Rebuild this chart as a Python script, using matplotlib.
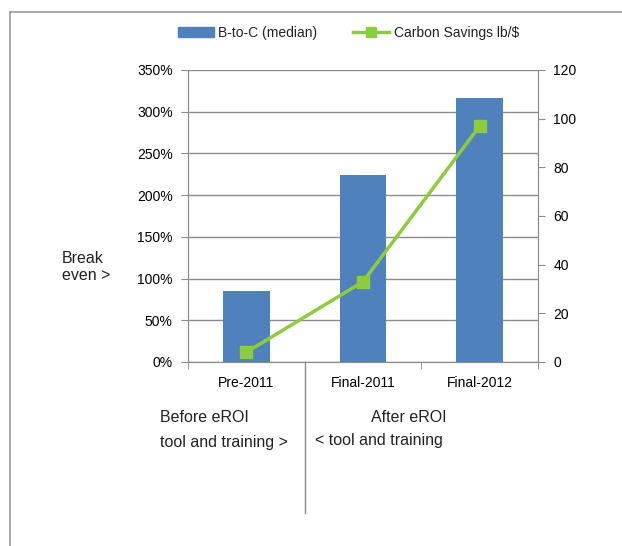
import matplotlib
matplotlib.use("Agg")
import matplotlib.pyplot as plt
from matplotlib.lines import Line2D
from matplotlib.ticker import FuncFormatter, MultipleLocator

plt.rcParams['font.family'] = ['Liberation Sans Narrow', 'Liberation Sans', 'DejaVu Sans']
plt.rcParams['font.size'] = 10
plt.rcParams['text.color'] = '#222222'

# Program stages and results
stages = ['Pre-2011', 'Final-2011', 'Final-2012']
b_to_c = [85, 224, 316]          # benefit-to-cost ratio, median (%)
carbon_savings = [4, 33, 97]     # lb per dollar

bar_color = '#4F81BD'
line_color = '#8DCB3F'
grid_color = '#8C8C8C'

fig = plt.figure(figsize=(6.22, 5.46), dpi=100)
ax = fig.add_axes([0.3023, 0.337, 0.5627, 0.5348])
ax2 = ax.twinx()

x = list(range(len(stages)))
ax.bar(x, b_to_c, width=0.4, color=bar_color, zorder=2)
ax.set_xlim(-0.5, 2.5)
ax.set_ylim(0, 350)
ax.yaxis.set_major_locator(MultipleLocator(50))
ax.yaxis.set_major_formatter(FuncFormatter(lambda v, p: f'{v:.0f}%'))
ax.grid(axis='y', color=grid_color, linewidth=1, zorder=0)
ax.set_axisbelow(True)

ax.set_xticks(x)
ax.set_xticklabels(stages)
ax.tick_params(axis='x', which='major', length=0, pad=10)
ax.set_xticks([-0.5, 0.5, 1.5, 2.5], minor=True)
ax.tick_params(axis='x', which='minor', length=5, color=grid_color, direction='out')
ax.tick_params(axis='y', length=5, color=grid_color, pad=6)

ax2.plot(x, carbon_savings, color=line_color, linewidth=2.5, marker='s',
         markersize=8, zorder=3)
ax2.set_ylim(0, 120)
ax2.yaxis.set_major_locator(MultipleLocator(20))
ax2.tick_params(axis='y', length=5, color=grid_color, pad=6)

for a in (ax, ax2):
    a.spines['top'].set_visible(False)
    for s in ('left', 'right', 'bottom'):
        a.spines[s].set_color(grid_color)

handles = [plt.Rectangle((0, 0), 1, 1, color=bar_color),
           Line2D([], [], color=line_color, linewidth=2.5, marker='s', markersize=7)]
fig.legend(handles, ['B-to-C (median)', 'Carbon Savings lb/$'], ncol=2,
           loc='center', bbox_to_anchor=(0.56, 1 - 33 / 546), frameon=False,
           handlelength=2.6, columnspacing=2.6, handletextpad=0.3)

# outer chart frame (top and left edges)
fig.add_artist(Line2D([10 / 622, 1], [1 - 12 / 546] * 2, color='#9A9A9A', linewidth=1.2))
fig.add_artist(Line2D([10 / 622] * 2, [0, 1 - 12 / 546], color='#9A9A9A', linewidth=1.2))

# divider between the before/after groups
fig.add_artist(Line2D([304.7 / 622] * 2, [1 - 362 / 546, 1 - 513 / 546],
                      color=grid_color, linewidth=1))

note_size = 11.5
fig.text(62 / 622, 1 - 267 / 546, 'Break\neven >', fontsize=note_size, ha='left',
         va='center', linespacing=1.2)
fig.text(160 / 622, 1 - 418 / 546, 'Before eROI', fontsize=note_size, ha='left', va='center')
fig.text(160 / 622, 1 - 443 / 546, 'tool and training >', fontsize=note_size, ha='left',
         va='center')
fig.text(409 / 622, 1 - 418 / 546, 'After eROI', fontsize=note_size, ha='center', va='center')
fig.text(315 / 622, 1 - 441 / 546, '< tool and training', fontsize=note_size, ha='left',
         va='center')

fig.savefig('out.png', dpi=100)
